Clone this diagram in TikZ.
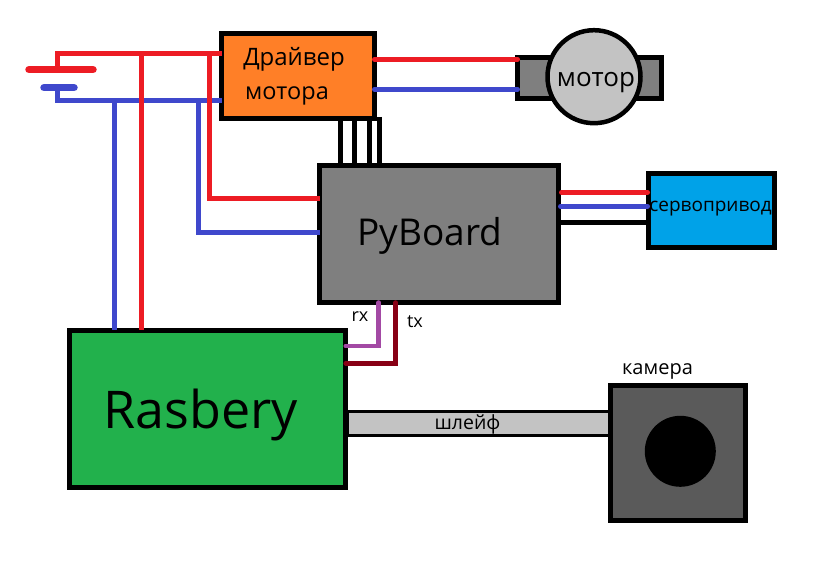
\documentclass[tikz,border=0pt]{standalone}
\usepackage{fontspec}
\setmainfont{Open Sans}
\definecolor{wred}{HTML}{ED1C24}
\definecolor{wblue}{HTML}{3F48CC}
\definecolor{wpurple}{HTML}{A349A4}
\definecolor{wmaroon}{HTML}{880015}
\definecolor{forange}{HTML}{FF7F27}
\definecolor{fgray}{HTML}{7F7F7F}
\definecolor{flight}{HTML}{C3C3C3}
\definecolor{fcyan}{HTML}{00A2E8}
\definecolor{fgreen}{HTML}{22B14C}
\definecolor{fdark}{HTML}{5A5A5A}
\tikzset{
  blockbox/.style={draw=black,line width=5pt,inner sep=0pt,outer sep=0pt,rectangle},
  wire/.style={line width=5pt,line join=miter},
  redw/.style={wire,draw=wred},
  bluew/.style={wire,draw=wblue},
  blackw/.style={wire,draw=black},
  plate/.style={line width=7.5pt,line cap=round},
  label/.style={inner sep=0pt,outer sep=0pt,text=black,anchor=center},
}
\begin{document}
\begin{tikzpicture}[x=1pt,y=-1pt]
\useasboundingbox (0,0) rectangle (836,577);
% ribbon
\node[draw=black,line width=3pt,fill=flight,minimum width=262pt,minimum height=24pt,inner sep=0pt,outer sep=0pt] (ribbon) at (478,423.4) {};
% blocks
\node[blockbox,fill=forange,minimum width=153pt,minimum height=84.5pt] (drv) at (298,76.2) {};
\node[blockbox,fill=fgray,minimum width=239pt,minimum height=137pt] (pyb) at (439,234) {};
\node[blockbox,fill=fgray,minimum width=144pt,minimum height=41pt] (mrect) at (589.5,78) {};
\node[circle,draw=black,line width=4.5pt,fill=flight,minimum size=93pt,inner sep=0pt,outer sep=0pt] (motor) at (594,76.7) {};
\node[blockbox,fill=fcyan,minimum width=126pt,minimum height=74pt] (servo) at (711.5,210.5) {};
\node[blockbox,fill=fgreen,minimum width=276pt,minimum height=157pt] (ras) at (207.7,409) {};
\node[blockbox,fill=fdark,minimum width=135pt,minimum height=134.5pt] (cam) at (678,453) {};
\node[circle,fill=black,minimum size=71pt,inner sep=0pt,outer sep=0pt] (lens) at (680.3,451.3) {};
% junctions
\coordinate (batP) at (57,53.3);
\coordinate (batN) at (57.5,100.3);
\coordinate (plP) at (57,69.7);
\coordinate (plN) at (57.5,87.7);
\coordinate (plPa) at (29,69.7);
\coordinate (plPb) at (93,69.7);
\coordinate (plNa) at (44,87.7);
\coordinate (plNb) at (74,87.7);
\coordinate (rDropA) at (141.5,53.3);
\coordinate (bDropA) at (114.5,100.3);
\coordinate (rDropB) at (209.5,53.3);
\coordinate (rTurn) at (209.5,198.3);
\coordinate (bDropB) at (198.5,100.3);
\coordinate (bTurn) at (198.5,232.3);
% battery
\draw[plate,wred] (plPa) -- (plPb);
\draw[plate,wblue] (plNa) -- (plNb);
\draw[redw] (plP) -- (batP) -- (drv.west |- batP);
\draw[bluew] (plN) -- (batN) -- (drv.west |- batN);
% power drops
\draw[bluew] (bDropA) -- (bDropA |- ras.north);
\draw[redw] (rDropA) -- (rDropA |- ras.north);
\draw[redw] (rDropB) -- (rTurn) -- (pyb.west |- rTurn);
\draw[bluew] (bDropB) -- (bTurn) -- (pyb.west |- bTurn);
% driver to motor
\coordinate (mR) at (445,59.3);
\coordinate (mB) at (445,89.3);
\draw[redw,line cap=round] (drv.east |- mR) -- (mrect.west |- mR);
\draw[bluew,line cap=round] (drv.east |- mB) -- (mrect.west |- mB);
% driver to pyboard
\coordinate (c1) at (340.5,150);
\coordinate (c2) at (354.5,150);
\coordinate (c3) at (369.5,150);
\coordinate (c4) at (379,150);
\coordinate (c4t) at (379,117);
\draw[blackw] (c1 |- drv.south) -- (c1 |- pyb.north);
\draw[blackw] (c2 |- drv.south) -- (c2 |- pyb.north);
\draw[blackw] (c3 |- drv.south) -- (c3 |- pyb.north);
\draw[blackw] (c4t) -- (c4 |- pyb.north);
% servo
\coordinate (sR) at (600,192.3);
\coordinate (sB) at (600,206.3);
\coordinate (sK) at (600,222.3);
\draw[redw,line cap=round] ([xshift=3pt]pyb.east |- sR) -- ([xshift=-1pt]servo.west |- sR);
\draw[bluew,line cap=round] ([xshift=2pt]pyb.east |- sB) -- ([xshift=-1pt]servo.west |- sB);
\draw[blackw] (pyb.east |- sK) -- (servo.west |- sK);
% uart
\coordinate (rxT) at (378.7,346);
\coordinate (txT) at (395.7,363.3);
\draw[line width=4.5pt,wpurple,line cap=round] (rxT |- pyb.south) -- (rxT) -- (ras.east |- rxT);
\draw[line width=4.5pt,wmaroon,line cap=round] (txT |- pyb.south) -- (txT) -- (ras.east |- txT);
% labels
\node[label,font=\fontsize{24}{24}\selectfont] (tDrv1) at (294,59) {Драйвер};
\node[label,font=\fontsize{23.5}{24}\selectfont] (tDrv2) at (287,96) {мотора};
\node[label,font=\fontsize{26}{26}\selectfont] (tMot) at (596,83) {мотор};
\node[label,font=\fontsize{37}{37}\selectfont] (tPyb) at (430,236) {PyBoard};
\node[label,font=\fontsize{19}{19}\selectfont] (tSrv) at (710.5,209) {сервопривод};
\node[label,font=\fontsize{52}{52}\selectfont] (tRas) at (201,415) {Rasbery};
\node[label,font=\fontsize{19.5}{20}\selectfont] (tRib) at (467.5,424) {шлейф};
\node[label,font=\fontsize{20}{20}\selectfont] (tCam) at (657.5,371) {камера};
\node[label,font=\fontsize{18}{18}\selectfont] (tRx) at (360,317) {rx};
\node[label,font=\fontsize{18}{18}\selectfont] (tTx) at (415,322) {tx};
\end{tikzpicture}
\end{document}
